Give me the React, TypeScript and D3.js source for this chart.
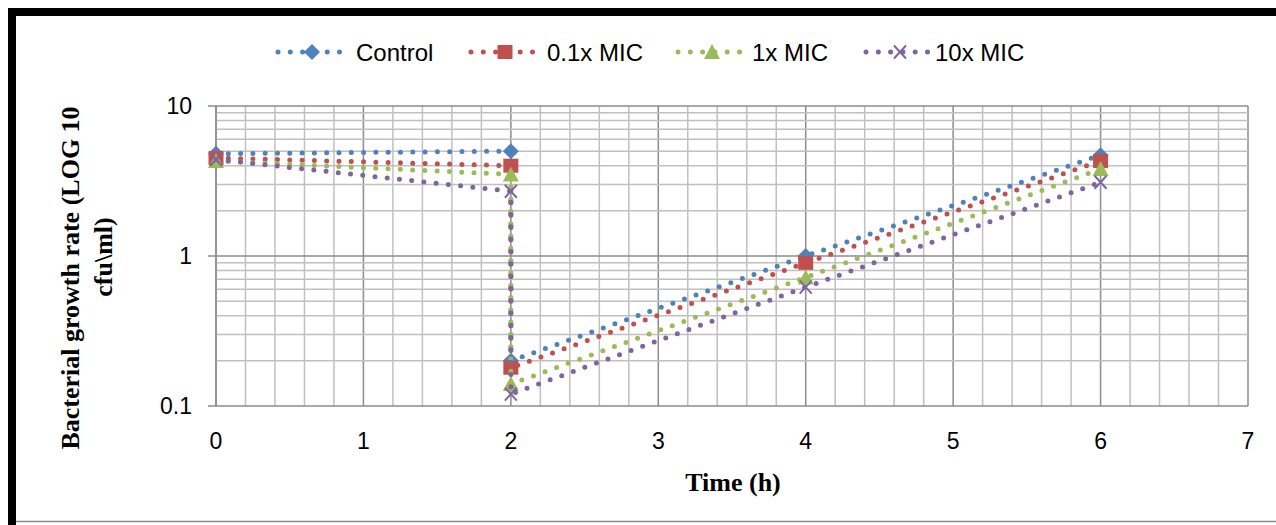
import React from 'react';
import * as d3 from 'd3';

const width = 1276;
const height = 525;

const times = [0, 2, 2, 4, 6];
const seriesNames = ['Control', '0.1x MIC', '1x MIC', '10x MIC'];
const controlValues = [4.8, 5.0, 0.2, 1.0, 4.7];
const lowMicValues = [4.5, 4.0, 0.18, 0.9, 4.3];
const midMicValues = [4.3, 3.5, 0.14, 0.72, 3.8];
const highMicValues = [4.4, 2.7, 0.12, 0.62, 3.1];
const xTicks = [0, 1, 2, 3, 4, 5, 6, 7];
const yTicks = [0.1, 1, 10];

const colors = ['#4F81BD', '#C0504D', '#9BBB59', '#8064A2'];
const markers = ['diamond', 'square', 'triangle', 'x'];
const allValues = [controlValues, lowMicValues, midMicValues, highMicValues];

const left = 216;
const right = 1248;
const top = 106;
const bottom = 406;

const x = d3.scaleLinear().domain([0, 7]).range([left, right]);
const y = d3.scaleLog().domain([0.1, 10]).range([bottom, top]);

const line = d3.line<[number, number]>()
  .x(d => x(d[0]))
  .y(d => y(d[1]));

const minorX = d3.range(0, 7.01, 0.2).map(v => Math.round(v * 10) / 10);
const minorY = [0.2, 0.3, 0.4, 0.5, 0.6, 0.7, 0.8, 0.9, 2, 3, 4, 5, 6, 7, 8, 9];

const dotted = { strokeWidth: 5, strokeDasharray: '0 12.3', strokeLinecap: 'round' as const, fill: 'none' };
const sans = "'Liberation Sans', Arial, sans-serif";
const serif = "'Liberation Serif', 'Times New Roman', serif";

const Marker = ({ kind, color, cx, cy }: { kind: string; color: string; cx: number; cy: number }) => {
  if (kind === 'diamond') {
    return <path d={`M${cx},${cy - 8}L${cx + 8},${cy}L${cx},${cy + 8}L${cx - 8},${cy}Z`} fill={color} />;
  }
  if (kind === 'square') {
    return <rect x={cx - 7.5} y={cy - 7} width={15} height={14} fill={color} />;
  }
  if (kind === 'triangle') {
    return <path d={`M${cx},${cy - 8}L${cx + 8},${cy + 7}L${cx - 8},${cy + 7}Z`} fill={color} />;
  }
  return (
    <path
      d={`M${cx - 6},${cy - 6.5}L${cx + 6},${cy + 6.5}M${cx + 6},${cy - 6.5}L${cx - 6},${cy + 6.5}`}
      stroke={color}
      strokeWidth={2}
    />
  );
};

const legendX = [312, 505, 712, 900];
const legendTextX = [356, 547, 752, 935];

const App = () => {
  return (
    <svg width={width} height={height} style={{ position: 'absolute', left: 0, top: 0 }}>
      <rect width={width} height={height} fill="white" />

      {/* frame */}
      <line x1={8} x2={width} y1={12} y2={12} stroke="black" strokeWidth={8} />
      <line x1={12} x2={12} y1={8} y2={height} stroke="black" strokeWidth={8} />
      <line x1={16} x2={width} y1={521.5} y2={521.5} stroke="#8c8c8c" strokeWidth={1.5} />

      {/* grid */}
      {minorX.map(v => (
        <line key={'vx' + v} x1={x(v)} x2={x(v)} y1={top} y2={bottom}
          stroke={Number.isInteger(v) ? '#8c8c8c' : '#c0c0c0'} strokeWidth={1.5} />
      ))}
      {minorY.map(v => (
        <line key={'hy' + v} x1={left} x2={right} y1={y(v)} y2={y(v)} stroke="#c0c0c0" strokeWidth={1.5} />
      ))}
      {yTicks.map(v => (
        <line key={'my' + v} x1={left - 8} x2={right} y1={y(v)} y2={y(v)} stroke="#8c8c8c" strokeWidth={1.5} />
      ))}
      <line x1={left} x2={left} y1={top} y2={bottom} stroke="#8c8c8c" strokeWidth={1.5} />

      {/* tick labels */}
      {yTicks.map(v => (
        <text key={'ty' + v} x={192} y={y(v)} textAnchor="end" dominantBaseline="central"
          fontFamily={sans} fontSize={23}>{v}</text>
      ))}
      {xTicks.map(v => (
        <text key={'tx' + v} x={x(v)} y={441} textAnchor="middle" dominantBaseline="central"
          fontFamily={sans} fontSize={23}>{v}</text>
      ))}

      {/* axis titles */}
      <text x={733} y={482} textAnchor="middle" dominantBaseline="central"
        fontFamily={serif} fontWeight="bold" fontSize={26}>Time (h)</text>
      <text transform="translate(70,278) rotate(-90)" textAnchor="middle" dominantBaseline="central"
        fontFamily={serif} fontWeight="bold" fontSize={26}>Bacterial growth rate (LOG 10</text>
      <text transform="translate(103,257) rotate(-90)" textAnchor="middle" dominantBaseline="central"
        fontFamily={serif} fontWeight="bold" fontSize={26}>cfu\ml)</text>

      {/* series */}
      {allValues.map((vals, i) => {
        const pts = times.map((t, j) => [t, vals[j]] as [number, number]);
        return (
          <g key={seriesNames[i]}>
            <path d={line(pts) || ''} stroke={colors[i]} {...dotted} />
            {pts.map((p, j) => (
              <Marker key={j} kind={markers[i]} color={colors[i]} cx={x(p[0])} cy={y(p[1])} />
            ))}
          </g>
        );
      })}

      {/* legend */}
      {seriesNames.map((name, i) => (
        <g key={'lg' + name}>
          <line x1={legendX[i] - 34} x2={legendX[i] + 34} y1={52} y2={52} stroke={colors[i]} {...dotted} />
          <Marker kind={markers[i]} color={colors[i]} cx={legendX[i]} cy={52} />
          <text x={legendTextX[i]} y={52} dominantBaseline="central"
            fontFamily={sans} fontSize={24}>{name}</text>
        </g>
      ))}
    </svg>
  );
};

export default App;
